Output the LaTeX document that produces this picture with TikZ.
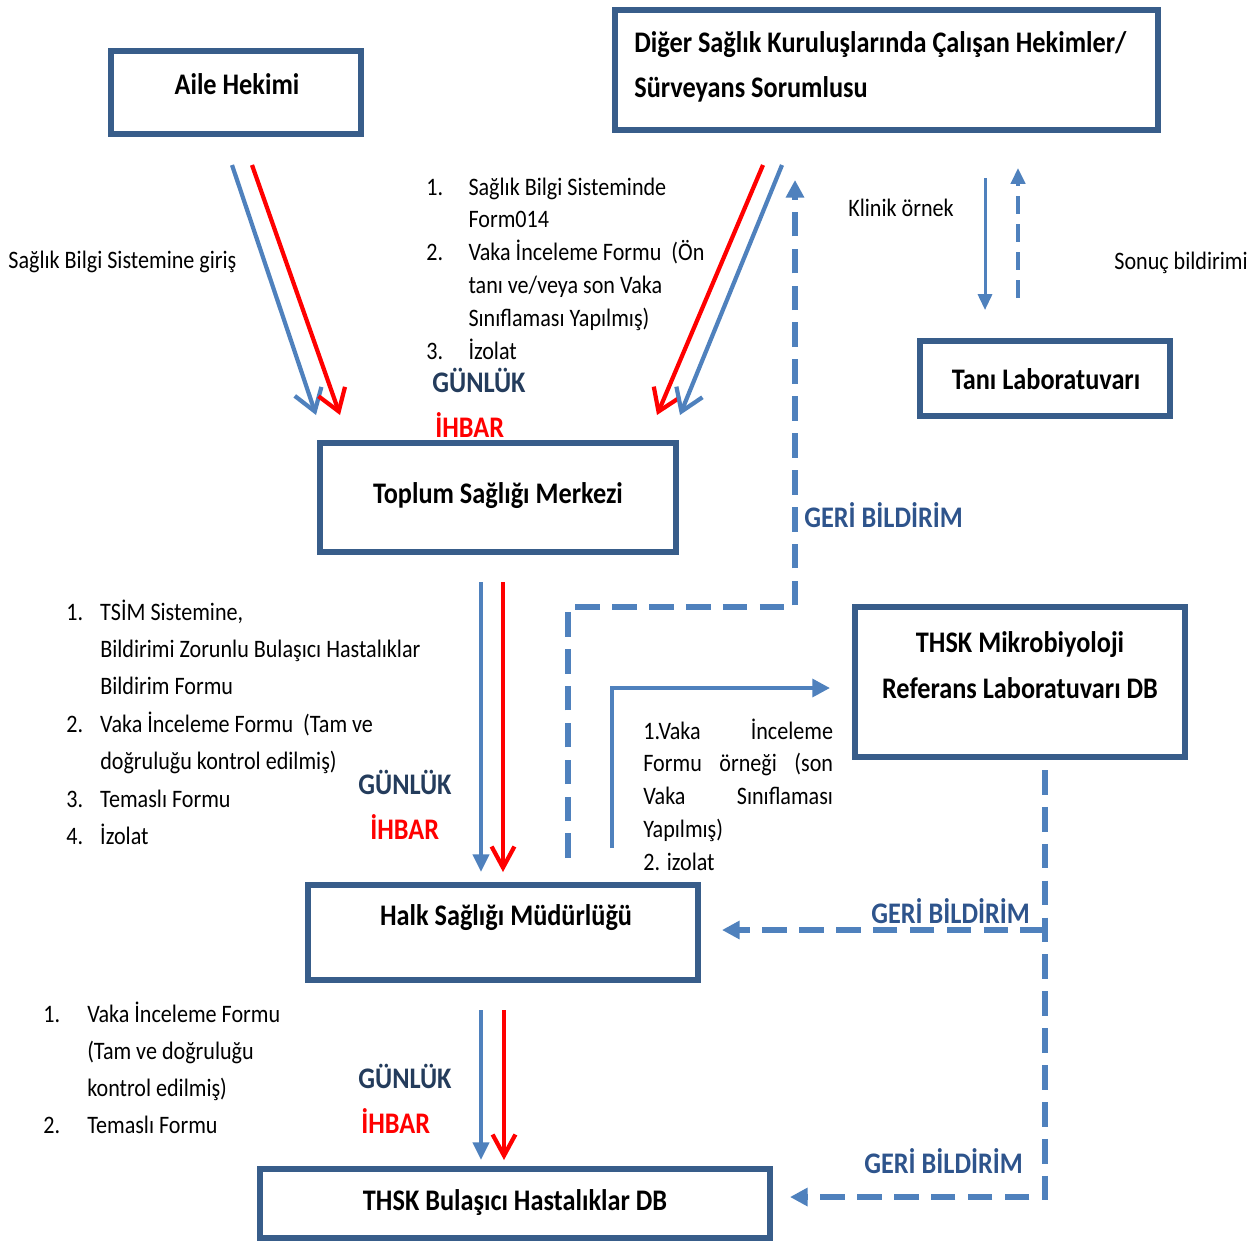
\documentclass[tikz,border=0pt]{standalone}
\usepackage{fontspec}
\setmainfont{Carlito}[FakeStretch=0.88]
\usetikzlibrary{arrows.meta, positioning, calc}

\definecolor{boxblue}{RGB}{56,93,138}
\definecolor{arrblue}{RGB}{79,129,189}
\definecolor{daily}{RGB}{36,60,92}
\definecolor{feedblue}{RGB}{46,84,140}

\tikzset{
  box/.style={draw=boxblue, line width=3.6pt, inner sep=0pt},
  title/.style={font=\fontsize{17}{26}\selectfont\bfseries, inner sep=0pt},
  note/.style={font=\fontsize{14.3}{18.7}\selectfont, inner sep=0pt},
  tag/.style={font=\fontsize{17}{20}\selectfont\bfseries, inner sep=0pt, anchor=west},
  bluearr/.style={arrblue, line width=2.4pt, -{Straight Barb[length=12pt,width=16pt]}},
  redarr/.style={red, line width=2.4pt, -{Straight Barb[length=12pt,width=16pt]}},
  reddown/.style={red, line width=2.4pt, -{Straight Barb[length=12pt,width=13pt]}},
  bluedown/.style={arrblue, line width=2.4pt, -{Triangle[length=10pt,width=9pt]}},
  feedback/.style={arrblue, line width=3pt, dash pattern=on 14pt off 7pt, -{Triangle[length=10pt,width=10pt]}}
}

\begin{document}
\begin{tikzpicture}[x=0.02cm, y=-0.02cm]
\useasboundingbox (0,0) rectangle (1256,1241);

% Boxes
\node[box, minimum width=4.99cm, minimum height=1.65cm] (aile) at (236,92.5) {};
\node[box, minimum width=10.85cm, minimum height=2.39cm] (diger) at (886.5,70) {};
\node[box, minimum width=4.99cm, minimum height=1.49cm] (tani) at (1045,378.5) {};
\node[box, minimum width=7.11cm, minimum height=2.17cm] (tsm) at (498,497.5) {};
\node[box, minimum width=6.59cm, minimum height=2.99cm] (mikro) at (1020,682) {};
\node[box, minimum width=7.79cm, minimum height=1.89cm] (halk) at (503,932.5) {};
\node[box, minimum width=10.19cm, minimum height=1.37cm] (bul) at (515,1203.5) {};

% Box titles
\node[title] (aileT) at (237,84) {Aile Hekimi};
\node[title, align=left, anchor=west] (digerT) at (634,67) {Diğer Sağlık Kuruluşlarında Çalışan Hekimler/\\Sürveyans Sorumlusu};
\node[title] (taniT) at (1046,379) {Tanı Laboratuvarı};
\node[title] (tsmT) at (498,496) {Toplum Sağlığı Merkezi};
\node[title, align=center] (mikroT) at (1020,665) {THSK Mikrobiyoloji\\Referans Laboratuvarı DB};
\node[title] (halkT) at (506,918) {Halk Sağlığı Müdürlüğü};
\node[title] (bulT) at (515,1203) {THSK Bulaşıcı Hastalıklar DB};

% Side texts
\node[note, anchor=west] (giris) at (8,262) {Sağlık Bilgi Sistemine giriş};
\node[note, anchor=west] (klinik) at (848,208) {Klinik örnek};
\node[note, anchor=west] (sonuc) at (1114,263) {Sonuç bildirimi};

% Form lists
\node[note, anchor=base west] (formsA) at (426,195) {\begin{tabular}[t]{@{}p{24pt}@{}l@{}}
1. & Sağlık Bilgi Sisteminde\\
   & Form014\\
2. & Vaka İnceleme Formu~ (Ön\\
   & tanı ve/veya son Vaka\\
   & Sınıflaması Yapılmış)\\
3. & İzolat
\end{tabular}};
\node[note, font=\fontsize{14.3}{21.3}\selectfont, anchor=base west] (formsB) at (66,620) {\begin{tabular}[t]{@{}p{19.3pt}@{}l@{}}
1. & TSİM Sistemine,\\
   & Bildirimi Zorunlu Bulaşıcı Hastalıklar\\
   & Bildirim Formu\\
2. & Vaka İnceleme Formu~ (Tam ve\\
   & doğruluğu kontrol edilmiş)\\
3. & Temaslı Formu\\
4. & İzolat
\end{tabular}};
\node[note, anchor=base west] (formsC) at (643,739) {\begin{tabular}[t]{@{}l@{}}
\makebox[108pt][s]{1.Vaka İnceleme}\\
\makebox[108pt][s]{Formu örneği (son}\\
\makebox[108pt][s]{Vaka Sınıflaması}\\
Yapılmış)\\
2. izolat
\end{tabular}};
\node[note, font=\fontsize{14.3}{21.2}\selectfont, anchor=base west] (formsD) at (43,1022) {\begin{tabular}[t]{@{}p{25pt}@{}l@{}}
1. & Vaka İnceleme Formu\\
   & (Tam ve doğruluğu\\
   & kontrol edilmiş)\\
2. & Temaslı Formu
\end{tabular}};

% Daily notice tags
\node[tag, daily] (gunluk1) at (432,380) {GÜNLÜK};
\node[tag, red] (ihbar1) at (435,425) {İHBAR};
\node[tag, daily] (gunluk2) at (358,782) {GÜNLÜK};
\node[tag, red] (ihbar2) at (370,827) {İHBAR};
\node[tag, daily] (gunluk3) at (358,1076) {GÜNLÜK};
\node[tag, red] (ihbar3) at (361,1121) {İHBAR};
\node[tag, feedblue] (geri1) at (804,515) {GERİ BİLDİRİM};
\node[tag, feedblue] (geri2) at (871,911) {GERİ BİLDİRİM};
\node[tag, feedblue] (geri3) at (864,1161) {GERİ BİLDİRİM};

% Arrow ends
\coordinate (aileB) at (232,165);
\coordinate (aileR) at (252,165);
\coordinate (tsmB1) at (316,415);
\coordinate (tsmR1) at (340,415);
\coordinate (digerR) at (763,165);
\coordinate (digerB) at (782,165);
\coordinate (tsmR2) at (657,415);
\coordinate (tsmB2) at (680,415);
\coordinate (tsmB) at (481,582);
\coordinate (tsmR) at (503,582);
\coordinate (halkB) at (481,872);
\coordinate (halkR) at (503,872);
\coordinate (halkB2) at (481,1010);
\coordinate (halkR2) at (504,1010);
\coordinate (bulB) at (481,1160);
\coordinate (bulR) at (504,1160);
\coordinate (geriA) at (568,858);
\coordinate (geriZ) at (795,180);
\coordinate (labIn) at (985,178);
\coordinate (labOut) at (985,310);
\coordinate (resIn) at (1018,298);
\coordinate (resOut) at (1018,168);
\coordinate (refA) at (612,848);
\coordinate (refZ) at (830,688);
\coordinate (mikroA) at (1045,770);
\coordinate (halkIn) at (722,930);
\coordinate (bulIn) at (790,1197);

% Notifications
\draw[bluearr] (aileB) -- (tsmB1);
\draw[redarr] (aileR) -- (tsmR1);
\draw[redarr] (digerR) -- (tsmR2);
\draw[bluearr] (digerB) -- (tsmB2);
\draw[bluedown] (tsmB) -- (halkB);
\draw[reddown] (tsmR) -- (halkR);
\draw[bluedown] (halkB2) -- (bulB);
\draw[reddown] (halkR2) -- (bulR);

% Laboratory
\draw[arrblue, line width=1.7pt, -{Triangle[length=9pt,width=8pt]}] (labIn) -- (labOut);
\draw[arrblue, line width=2.2pt, dash pattern=on 10pt off 6pt, -{Triangle[length=9pt,width=8pt]}] (resIn) -- (resOut);
\draw[arrblue, line width=2.4pt, -{Triangle[length=10pt,width=10pt]}] (refA) |- (refZ);

% Feedback
\draw[feedback] (geriA) -- (geriA |- 0,607) -| (geriZ);
\draw[feedback] (mikroA) |- (bulIn);
\draw[feedback] (mikroA |- halkIn) -- (halkIn);
\end{tikzpicture}
\end{document}
